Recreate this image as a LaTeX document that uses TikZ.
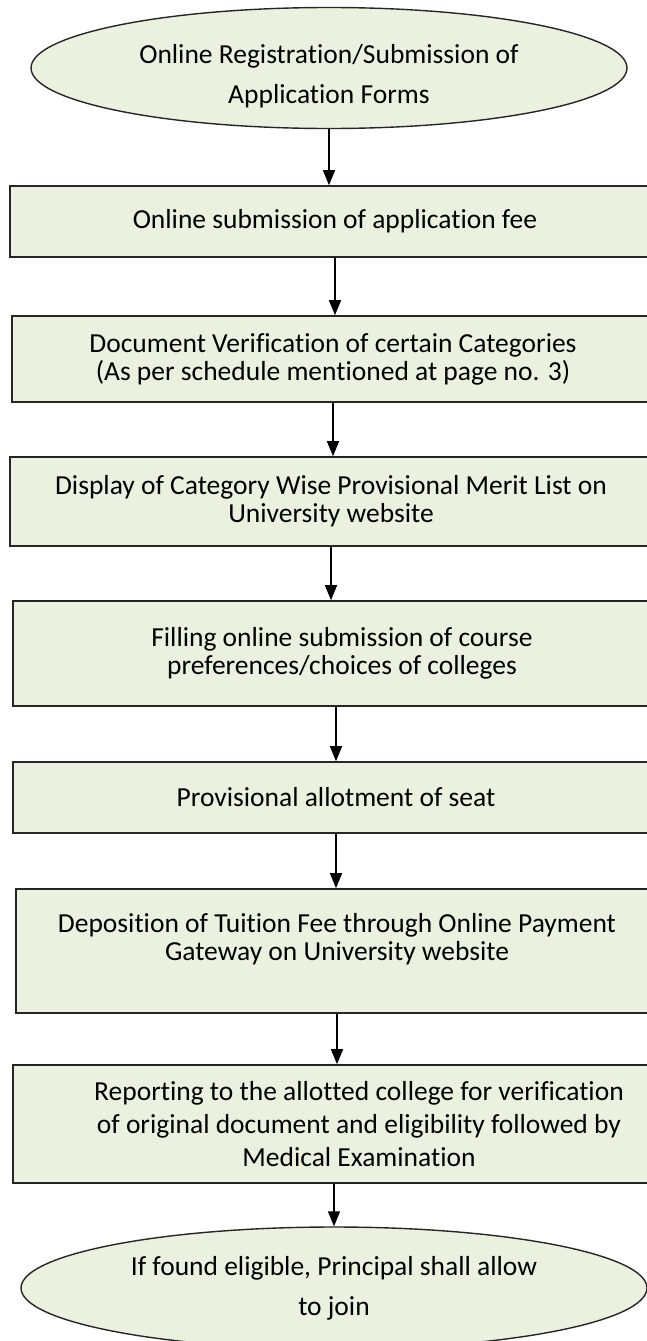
\documentclass[tikz,border=0pt]{standalone}
\usepackage{fontspec}
\setmainfont{Carlito}[Ligatures=NoCommon]
\usetikzlibrary{shapes.geometric,arrows.meta}
\definecolor{stagegreen}{HTML}{EBF1DE}

\begin{document}
\begin{tikzpicture}
  [x=1pt,y=-1pt,
   stage/.style={rectangle,draw=black!85,line width=1.6pt,fill=stagegreen,inner sep=0pt,align=center,font={\fontsize{27.5}{28}\selectfont}},
   term/.style={ellipse,draw=black!85,line width=1.4pt,fill=stagegreen,inner sep=0pt,align=center,font={\fontsize{27.5}{40}\selectfont}},
   arr/.style={-{Triangle[width=12pt,length=15pt]},line width=1.4pt}]
  \useasboundingbox (0,0) rectangle (646,1341);

  \node[term,minimum width=596pt,minimum height=121pt] (n1) at (329,68) {\rule{0pt}{35pt}Online Registration/Submission of\\Application Forms};
  \node[stage,minimum width=650pt,minimum height=71pt] (n2) at (335,221.5) {Online submission of application fee};
  \node[stage,minimum width=642pt,minimum height=86pt] (n3) at (333,359) {Document Verification of certain Categories\\(As per schedule mentioned at page no. 3)};
  \node[stage,minimum width=642pt,minimum height=89pt] (n4) at (331,501.5) {Display of Category Wise Provisional Merit List on\\University website};
  \node[stage,minimum width=658pt,minimum height=105pt] (n5) at (342,653.5) {Filling online submission of course\\preferences/choices of colleges};
  \node[stage,minimum width=646pt,minimum height=71pt] (n6) at (336,797.5) {Provisional allotment of seat};
  \node[stage,minimum width=642pt,minimum height=124pt] (n7) at (337,951) {Deposition of Tuition Fee through Online Payment\\Gateway on University website\\\mbox{}};
  \node[stage,minimum width=692pt,minimum height=118pt,font={\fontsize{27.5}{33}\selectfont}] (n8) at (359,1124) {Reporting to the allotted college for verification\\of original document and eligibility followed by\\Medical Examination};
  \node[term,minimum width=626pt,minimum height=122pt] (n9) at (334,1288) {If found eligible, Principal shall allow\\to join};

  \draw[arr] (n1.south) -- (n1.south |- n2.north);
  \draw[arr] (n2.south) -- (n2.south |- n3.north);
  \draw[arr] (n3.south) -- (n3.south |- n4.north);
  \draw[arr] (n4.south) -- (n4.south |- n5.north);
  \draw[arr] (n6.north |- n5.south) -- (n6.north);
  \draw[arr] (n6.south) -- (n6.south |- n7.north);
  \draw[arr] (n7.south) -- (n7.south |- n8.north);
  \draw[arr] (n9.north |- n8.south) -- (n9.north);

\end{tikzpicture}
\end{document}
